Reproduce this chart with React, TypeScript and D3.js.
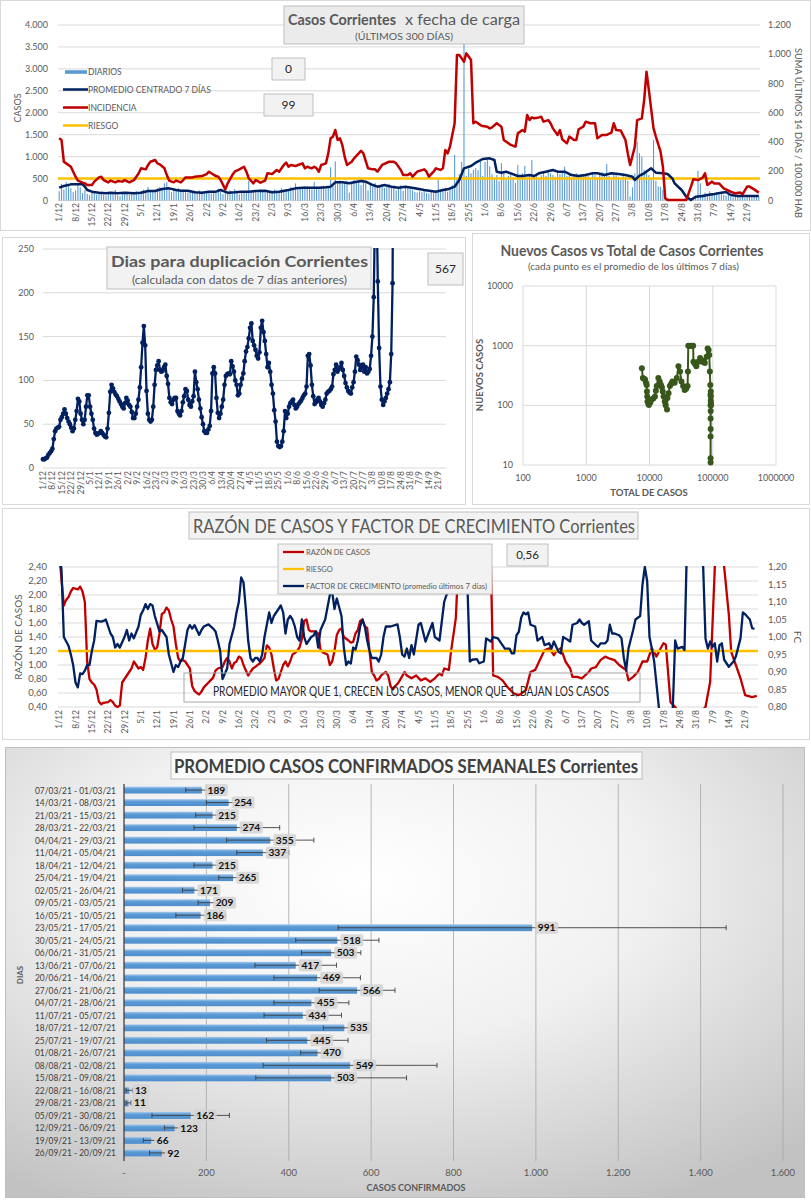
import React from 'react';
import * as d3 from 'd3';

// ---- categorías: días desde 1/12/2020 (300 días)
const START = new Date(2020, 11, 1);
const N_DAYS = 300;
const FECHAS = d3.range(N_DAYS).map(i => d3.timeDay.offset(START, i));
const fmtFecha = d3.timeFormat('%-d/%-m');
const TICKS_FECHA = d3.range(0, N_DAYS, 7);

// ---- Casos Corrientes x fecha de carga
const DIARIOS = [
  210, 380, 250, 420, 330, 280, 190, 230, 390, 300, 170, 240, 150, 120,
  180, 200, 140, 160, 210, 130, 110, 170, 190, 150, 240, 120, 100, 180,
  160, 200, 130, 150, 190, 210, 140, 220, 250, 180, 310, 240, 200, 230,
  280, 310, 250, 390, 420, 240, 190, 260, 230, 280, 200, 250, 210, 180,
  190, 170, 210, 150, 230, 200, 160, 210, 180, 160, 230, 190, 270, 200,
  150, 210, 190, 230, 160, 260, 180, 140, 200, 170, 220, 450, 190, 240,
  220, 180, 260, 210, 190, 240, 170, 200, 250, 230, 180, 280, 240, 210,
  260, 310, 290, 390, 250, 280, 300, 330, 270, 300, 250, 420, 310, 260,
  290, 340, 280, 310, 760, 350, 890, 420, 460, 380, 400, 450, 180, 390,
  470, 410, 450, 350, 480, 420, 230, 380, 310, 400, 280, 330, 360, 290,
  310, 380, 290, 340, 230, 300, 350, 220, 290, 310, 260, 240, 200, 180,
  210, 190, 240, 170, 160, 200, 180, 240, 510, 210, 230, 290, 200, 280,
  350, 1040, 490, 600, 880, 3600, 560, 730, 620, 700, 740, 690, 900, 560,
  880, 940, 780, 600, 520, 580, 440, 850, 610, 480, 560, 640, 500, 400,
  810, 580, 620, 790, 540, 600, 920, 540, 610, 500, 580, 640, 560, 700,
  620, 580, 540, 680, 600, 640, 770, 560, 600, 520, 580, 620, 540, 600,
  590, 620, 560, 500, 640, 580, 530, 600, 650, 620, 830, 560, 470, 610,
  580, 540, 470, 620, 540, 450, 90, 300, 620, 1340, 1080, 1000, 700, 620,
  580, 500, 1380, 450, 320, 310, 240, 180, 60, 30, 20, 10, 15, 10,
  10, 5, 15, 10, 20, 30, 60, 680, 390, 140, 180, 150, 210, 170,
  120, 190, 160, 200, 130, 110, 150, 90, 70, 110, 130, 80, 100, 60,
  90, 130, 70, 100, 110, 90,
];
const PROMEDIO_7D = [
  [0, 292], [2, 330], [5, 368], [10, 368], [11, 315], [12, 239], [14, 201], [17, 178], [20, 163],
  [22, 178], [25, 163], [28, 178], [32, 163], [35, 178], [38, 217], [41, 217], [44, 262], [47, 277],
  [50, 239], [52, 224], [55, 224], [58, 186], [61, 178], [64, 201], [67, 201], [69, 239], [72, 178],
  [75, 186], [78, 201], [81, 201], [84, 217], [88, 224], [91, 186], [94, 201], [98, 239], [101, 277],
  [104, 292], [108, 292], [111, 292], [114, 300], [116, 315], [118, 414], [121, 414], [124, 391],
  [126, 414], [129, 444], [131, 429], [134, 353], [136, 315], [139, 353], [142, 315], [145, 292],
  [148, 315], [152, 277], [156, 239], [161, 201], [164, 239], [166, 255], [169, 315], [171, 467],
  [173, 733], [176, 786], [178, 862], [181, 946], [184, 961], [186, 923], [187, 657], [189, 634],
  [191, 657], [193, 619], [196, 558], [198, 558], [201, 581], [203, 558], [205, 619], [208, 657],
  [211, 695], [213, 657], [216, 657], [219, 581], [222, 558], [225, 581], [228, 619], [230, 619],
  [233, 581], [236, 619], [239, 604], [242, 581], [245, 543], [246, 467], [248, 566], [250, 619],
  [253, 733], [255, 634], [258, 619], [260, 604], [262, 505], [263, 391], [266, 239], [268, 87],
  [270, 11], [272, 87], [275, 103], [277, 125], [280, 148], [283, 179], [285, 194], [287, 125],
  [290, 103], [295, 103], [299, 103],
];
const INCIDENCIA = [
  [0, 425], [1, 414], [2, 265], [3, 254], [5, 231], [6, 197], [7, 163], [8, 136], [10, 122], [11, 117],
  [12, 106], [14, 106], [15, 129], [17, 158], [18, 163], [19, 140], [21, 124], [22, 136], [24, 124],
  [25, 133], [27, 129], [28, 140], [30, 124], [31, 133], [32, 140], [34, 186], [35, 220], [37, 213],
  [38, 243], [39, 265], [41, 277], [42, 254], [43, 247], [45, 220], [46, 174], [47, 136], [49, 124],
  [50, 136], [52, 124], [53, 140], [54, 158], [57, 158], [58, 163], [61, 167], [63, 181], [64, 197],
  [65, 186], [67, 167], [68, 163], [69, 140], [71, 76], [72, 117], [74, 174], [75, 197], [77, 213],
  [79, 231], [80, 197], [81, 152], [83, 117], [84, 140], [86, 122], [88, 136], [89, 186], [91, 181],
  [93, 208], [94, 197], [96, 243], [97, 259], [98, 231], [99, 243], [101, 236], [104, 254], [105, 220],
  [106, 231], [108, 220], [109, 231], [110, 220], [111, 197], [112, 243], [114, 254], [115, 322],
  [116, 425], [117, 436], [118, 482], [119, 414], [120, 425], [121, 379], [122, 300], [123, 243],
  [125, 265], [126, 288], [128, 322], [129, 340], [130, 322], [132, 220], [134, 213], [135, 213],
  [136, 197], [138, 243], [141, 265], [143, 265], [144, 254], [146, 208], [147, 174], [149, 174],
  [150, 186], [151, 163], [153, 197], [156, 213], [157, 197], [158, 163], [160, 197], [161, 220],
  [163, 209], [164, 220], [165, 345], [166, 322], [167, 368], [169, 528], [170, 995], [171, 995],
  [172, 972], [173, 949], [174, 1006], [175, 984], [176, 961], [177, 528], [178, 539], [180, 516],
  [181, 509], [183, 505], [184, 493], [185, 500], [187, 528], [189, 505], [190, 414], [192, 391],
  [193, 380], [195, 368], [196, 459], [198, 482], [199, 471], [200, 585], [201, 550], [202, 568],
  [203, 562], [205, 568], [206, 573], [207, 539], [209, 550], [210, 528], [211, 493], [213, 448],
  [214, 482], [215, 418], [217, 391], [218, 437], [220, 414], [221, 414], [222, 487], [224, 505],
  [225, 539], [227, 528], [229, 528], [230, 425], [232, 448], [234, 448], [236, 464], [237, 528],
  [238, 482], [240, 478], [242, 414], [243, 322], [244, 242], [246, 368], [247, 550], [249, 562],
  [250, 687], [251, 881], [252, 756], [254, 493], [255, 437], [257, 334], [258, 231], [259, 15],
  [260, 3], [268, 3], [270, 95], [271, 145], [273, 140], [275, 156], [276, 186], [277, 106], [279, 129],
  [280, 117], [282, 117], [284, 83], [287, 60], [289, 49], [291, 54], [292, 42], [294, 95], [295, 95],
  [297, 76], [299, 54],
];
const RIESGO_CASOS = 500;
const LEYENDA_CASOS = ['DIARIOS', 'PROMEDIO CENTRADO 7 DÍAS', 'INCIDENCIA', 'RIESGO'];

// ---- Días para duplicación
const DUPLICACION = [
  10, 10, 11, 12, 15, 17, 19, 22, 33, 42, 45, 46, 47, 55, 58, 62, 67, 62, 57, 53,
  50, 46, 42, 45, 55, 65, 79, 76, 62, 55, 50, 55, 70, 83, 83, 70, 62, 55, 45, 40,
  38, 39, 40, 42, 40, 38, 36, 35, 45, 63, 87, 95, 91, 87, 84, 82, 79, 76, 73, 70,
  68, 74, 80, 77, 72, 70, 64, 57, 57, 62, 70, 78, 92, 115, 143, 162, 140, 88, 62, 55,
  53, 55, 70, 95, 112, 117, 122, 112, 110, 111, 115, 118, 105, 96, 80, 75, 73, 78, 80, 80,
  65, 62, 60, 65, 75, 82, 90, 88, 78, 72, 70, 76, 82, 110, 98, 90, 78, 68, 58, 50,
  42, 40, 40, 44, 48, 65, 108, 115, 108, 80, 63, 57, 62, 70, 78, 95, 105, 107, 108, 107,
  122, 116, 110, 100, 95, 83, 85, 95, 102, 108, 122, 133, 138, 148, 160, 165, 145, 140, 135, 128,
  125, 132, 160, 168, 155, 145, 130, 115, 120, 110, 95, 85, 66, 53, 30, 25, 24, 25, 30, 42,
  65, 57, 62, 70, 74, 76, 78, 72, 68, 70, 73, 75, 77, 80, 83, 85, 93, 128, 130, 117,
  95, 82, 73, 75, 78, 80, 76, 72, 70, 74, 78, 85, 87, 88, 90, 93, 107, 112, 118, 110,
  113, 115, 120, 112, 105, 97, 92, 88, 86, 85, 92, 98, 110, 127, 123, 118, 112, 115, 118, 110,
  115, 108, 110, 113, 128, 150, 195, 300, 320, 213, 137, 93, 78, 72, 76, 80, 85, 90, 98, 130,
  211, 567,
];

// ---- Nuevos casos vs total
const TOTAL_CASOS = [
  7570, 7850, 8200, 8500, 8800, 9000, 9100, 9200, 9300, 9600, 9800, 10300, 10800, 11500, 12200,
  12600, 13000, 13800, 14500, 15200, 15700, 16200, 16700, 17400, 18000, 18900, 19200, 20000, 21000,
  22000, 23000, 25000, 27000, 28700, 30400, 32000, 34000, 36000, 38000, 40000, 40500, 41000, 44000,
  46000, 49000, 49500, 52000, 55000, 59000, 63000, 68000, 72000, 75000, 80000, 83000, 86000, 88000,
  90000, 91500, 92000, 92300, 92400, 92400, 92400, 92500, 92600, 92700, 92900, 93100, 93300, 93500, 93700,
];
const NUEVOS_CASOS = [
  419, 286, 280, 270, 240, 220, 170, 140, 116, 105, 101, 112, 125, 130, 140,
  175, 210, 286, 250, 220, 200, 170, 140, 116, 100, 85, 133, 160, 210,
  230, 250, 240, 286, 450, 370, 250, 210, 180, 190, 210, 370, 1000, 990,
  1000, 1000, 540, 500, 450, 540, 620, 540, 560, 510, 650, 900, 850, 700,
  370, 220, 150, 100, 60, 30, 13, 11, 40, 80, 120, 170, 140, 110, 100,
];

// ---- Razón de casos y factor de crecimiento
const RAZON = [
  [0, 2.6], [2, 1.85], [3, 1.93], [4, 1.97], [5, 2.05], [6, 2.1], [8, 2.08], [9, 2.12], [10, 2.05],
  [11, 1.9], [12, 1.05], [13, 0.8], [14, 0.75], [15, 0.72], [16, 0.65], [17, 0.48], [18, 0.44],
  [19, 0.46], [21, 0.47], [22, 0.5], [23, 0.47], [24, 0.42], [25, 0.4], [26, 0.42], [27, 0.75],
  [28, 0.8], [29, 0.85], [31, 0.95], [32, 1.05], [33, 1.0], [34, 0.95], [35, 0.97], [36, 0.93],
  [37, 1.1], [38, 1.35], [39, 1.52], [40, 1.3], [41, 1.22], [42, 1.25], [43, 1.45], [44, 1.73],
  [45, 1.75], [46, 1.82], [47, 1.78], [48, 1.65], [49, 1.55], [50, 1.3], [51, 1.1], [52, 1.05],
  [53, 1.07], [54, 1.05], [55, 1.0], [56, 0.95], [57, 0.7], [58, 0.63], [59, 0.6], [60, 0.58],
  [61, 0.62], [62, 0.68], [64, 0.75], [66, 0.82], [67, 0.92], [68, 0.95], [70, 0.97], [71, 1.05],
  [72, 1.1], [73, 1.05], [74, 0.95], [75, 1.03], [76, 1.05], [77, 1.12], [78, 1.1], [79, 1.0],
  [81, 0.85], [82, 0.9], [83, 0.95], [84, 0.97], [85, 1.0], [86, 1.02], [88, 1.1], [89, 1.28],
  [90, 1.25], [91, 1.15], [92, 0.95], [93, 0.78], [94, 0.8], [95, 0.9], [96, 1.0], [97, 1.05],
  [98, 0.98], [99, 1.05], [100, 1.15], [101, 1.17], [102, 1.2], [103, 1.25], [104, 1.37], [105, 1.63],
  [106, 1.65], [107, 1.5], [108, 1.48], [110, 1.48], [111, 1.45], [112, 1.22], [113, 1.18], [115, 1.15],
  [116, 1.0], [117, 1.05], [118, 1.2], [119, 1.43], [120, 1.5], [121, 1.52], [122, 1.4], [124, 1.35],
  [125, 1.32], [126, 1.33], [127, 1.45], [128, 1.5], [129, 1.63], [130, 1.65], [131, 1.55], [132, 1.53],
  [133, 1.2], [134, 0.9], [135, 0.85], [136, 0.78], [137, 0.8], [138, 0.85], [139, 0.88], [140, 0.9],
  [141, 0.85], [142, 0.7], [143, 0.65], [144, 0.7], [145, 0.73], [146, 0.78], [148, 0.9], [149, 0.85],
  [151, 0.81], [153, 0.85], [155, 0.78], [157, 0.81], [159, 0.76], [161, 0.81], [163, 0.88], [164, 0.85],
  [165, 0.95], [167, 0.93], [168, 1.21], [170, 1.67], [171, 2.4], [173, 2.9], [178, 3.3], [183, 2.9],
  [185, 2.5], [186, 0.85], [188, 0.83], [190, 0.78], [192, 0.69], [195, 0.59], [197, 0.57], [198, 0.59],
  [200, 0.64], [202, 0.9], [204, 0.93], [206, 1.07], [208, 1.21], [210, 1.24], [212, 1.14], [213, 1.19],
  [215, 1.24], [217, 1.05], [219, 0.95], [220, 0.83], [222, 0.83], [224, 0.81], [227, 0.9], [228, 0.95],
  [230, 0.97], [232, 1.07], [234, 1.12], [236, 1.09], [238, 1.07], [240, 1.0], [242, 0.95], [243, 0.93],
  [244, 0.78], [246, 0.83], [248, 0.9], [250, 1.05], [252, 1.05], [254, 1.24], [256, 1.12], [257, 1.19],
  [259, 1.31], [260, 1.29], [262, 0.47], [264, 0.4], [266, 0.3], [270, 0.25], [274, 0.3], [277, 0.4],
  [279, 0.76], [281, 2.4], [283, 3.0], [285, 2.4], [287, 1.72], [288, 1.19], [290, 1.0], [292, 0.81],
  [293, 0.69], [294, 0.57], [297, 0.54], [299, 0.56],
];
const FACTOR = [
  [0, 1.25], [1, 1.19], [2, 1.0], [4, 0.975], [5, 0.95], [6, 0.92], [7, 0.87], [8, 0.856], [9, 0.896],
  [10, 0.894], [11, 0.904], [12, 0.92], [13, 0.92], [14, 0.96], [15, 0.99], [16, 1.046], [18, 1.044],
  [19, 1.046], [20, 1.05], [21, 1.03], [22, 1.01], [23, 1.0], [24, 0.97], [25, 0.98], [26, 0.97],
  [28, 1.0], [29, 1.02], [30, 0.99], [31, 1.01], [32, 0.996], [34, 1.03], [35, 1.064], [36, 1.076],
  [37, 1.094], [38, 1.08], [39, 1.094], [40, 1.09], [41, 1.06], [43, 1.016], [44, 1.02], [46, 1.0],
  [47, 0.95], [49, 0.9], [50, 0.92], [51, 0.914], [52, 0.93], [53, 0.94], [54, 0.98], [55, 1.02],
  [56, 1.034], [57, 1.024], [58, 1.034], [59, 1.02], [60, 1.006], [61, 1.02], [62, 1.03], [64, 1.036],
  [66, 1.024], [67, 1.016], [68, 0.99], [69, 0.96], [70, 0.88], [72, 0.91], [73, 0.98], [75, 1.03],
  [76, 1.07], [77, 1.1], [78, 1.17], [79, 1.156], [80, 1.08], [81, 0.99], [82, 0.94], [83, 0.93],
  [84, 0.94], [85, 0.94], [86, 0.93], [87, 0.95], [88, 1.0], [90, 1.07], [91, 1.04], [92, 1.06],
  [94, 1.08], [95, 1.09], [96, 1.07], [97, 1.01], [98, 1.05], [99, 1.06], [100, 1.05], [101, 1.03],
  [102, 1.0], [103, 0.99], [104, 1.05], [105, 1.0], [106, 0.98], [108, 1.0], [109, 1.004], [110, 1.016],
  [111, 0.97], [112, 1.02], [114, 1.05], [116, 1.12], [117, 1.13], [118, 1.08], [119, 1.11], [121, 1.06],
  [122, 0.97], [123, 0.92], [124, 0.93], [125, 0.924], [126, 0.97], [127, 0.964], [128, 0.99], [129, 1.03],
  [130, 1.05], [131, 1.03], [132, 0.99], [133, 0.96], [134, 0.94], [136, 0.94], [137, 0.93], [138, 0.95],
  [139, 1.0], [140, 1.03], [142, 1.03], [145, 1.036], [146, 1.0], [147, 0.95], [148, 0.944], [149, 0.967],
  [150, 0.94], [151, 0.977], [152, 0.95], [154, 1.035], [155, 1.04], [157, 0.987], [158, 1.005], [160, 1.04],
  [161, 1.0], [163, 0.99], [164, 1.045], [165, 1.1], [166, 1.12], [167, 1.135], [168, 1.2], [170, 1.3],
  [173, 1.35], [175, 1.14], [176, 0.93], [177, 0.935], [179, 0.937], [180, 0.925], [182, 0.93], [183, 0.996],
  [185, 0.987], [186, 1.0], [188, 0.996], [190, 0.977], [191, 0.967], [193, 0.967], [194, 0.953], [195, 0.953],
  [196, 1.005], [197, 1.015], [198, 1.055], [199, 1.07], [200, 1.065], [201, 1.07], [202, 1.035], [204, 1.03],
  [205, 0.99], [207, 1.0], [208, 0.977], [210, 0.982], [211, 0.967], [212, 0.987], [214, 0.958], [215, 0.953],
  [216, 1.0], [217, 0.996], [219, 0.987], [220, 1.035], [222, 1.04], [223, 1.05], [224, 1.04], [225, 1.035],
  [227, 1.045], [228, 0.99], [230, 0.977], [231, 0.972], [232, 0.982], [234, 0.982], [235, 0.99], [236, 1.035],
  [237, 1.01], [238, 1.01], [240, 1.005], [241, 0.996], [242, 0.94], [243, 0.905], [244, 0.967], [246, 1.02],
  [247, 1.05], [249, 1.06], [250, 1.15], [251, 1.2], [252, 1.16], [253, 1.0], [254, 0.967], [255, 0.93],
  [257, 0.8], [258, 0.7], [261, 0.65], [263, 0.8], [264, 0.99], [265, 0.967], [267, 0.972], [268, 0.963],
  [269, 1.25], [272, 1.4], [275, 1.25], [276, 1.2], [277, 0.996], [278, 0.967], [279, 0.987], [280, 0.972],
  [281, 0.982], [282, 0.93], [283, 0.977], [284, 0.982], [285, 0.935], [286, 0.925], [287, 0.915], [289, 0.93],
  [290, 0.944], [292, 0.996], [293, 1.07], [294, 1.065], [296, 1.05], [297, 1.025], [298, 1.023],
];
const RIESGO_RAZON = 1.2;
const LEYENDA_RAZON = ['RAZÓN DE CASOS', 'RIESGO', 'FACTOR DE CRECIMIENTO (promedio últimos 7 días)'];

// ---- Promedio casos confirmados semanales
const SEMANAS = [
  '07/03/21 - 01/03/21', '14/03/21 - 08/03/21', '21/03/21 - 15/03/21', '28/03/21 - 22/03/21',
  '04/04/21 - 29/03/21', '11/04/21 - 05/04/21', '18/04/21 - 12/04/21', '25/04/21 - 19/04/21',
  '02/05/21 - 26/04/21', '09/05/21 - 03/05/21', '16/05/21 - 10/05/21', '23/05/21 - 17/05/21',
  '30/05/21 - 24/05/21', '06/06/21 - 31/05/21', '13/06/21 - 07/06/21', '20/06/21 - 14/06/21',
  '27/06/21 - 21/06/21', '04/07/21 - 28/06/21', '11/07/21 - 05/07/21', '18/07/21 - 12/07/21',
  '25/07/21 - 19/07/21', '01/08/21 - 26/07/21', '08/08/21 - 02/08/21', '15/08/21 - 09/08/21',
  '22/08/21 - 16/08/21', '29/08/21 - 23/08/21', '05/09/21 - 30/08/21', '12/09/21 - 06/09/21',
  '19/09/21 - 13/09/21', '26/09/21 - 20/09/21',
];
const PROMEDIO_SEMANAL = [
  189, 254, 215, 274, 355, 337, 215, 265, 171, 209, 186, 991, 518, 503, 417,
  469, 566, 455, 434, 535, 445, 470, 549, 503, 13, 11, 162, 123, 66, 92,
];
const DESVIO_SEMANAL = [
  39, 54, 41, 104, 106, 63, 45, 35, 29, 29, 60, 471, 101, 72, 99,
  105, 92, 91, 94, 51, 99, 41, 211, 183, 8, 6, 94, 25, 19, 30,
];

// ---- estilo
const FONT = 'Lato, "Open Sans", sans-serif';
const TXT = '#595959';
const GRID = '#d9d9d9';
const NAVY = '#002060';
const RED = '#c00000';
const GOLD = '#ffc000';
const BAR = '#5b9bd5';
const GREEN = '#38571a';

const es = d3.formatLocale({ decimal: ',', thousands: '.', grouping: [3], currency: ['$', ''] });
const miles = es.format(',');
const dec2 = es.format('.2f');

function Caja({ x, y, w, h, text, size = 12 }: any) {
  return (
    <g>
      <rect x={x} y={y} width={w} height={h} fill="#f2f2f2" stroke="#bfbfbf" />
      <text x={x + w / 2} y={y + h / 2 + size * 0.36} textAnchor="middle" fontSize={size} fill="#262626">{text}</text>
    </g>
  );
}

function FechasEje({ x, y }: any) {
  return (
    <g fontSize={8.5} fill={TXT}>
      {TICKS_FECHA.map(i => (
        <text key={i} transform={`translate(${x(i) + 3},${y}) rotate(-90)`} textAnchor="end">{fmtFecha(FECHAS[i])}</text>
      ))}
    </g>
  );
}

function CasosChart() {
  const x = d3.scaleLinear().domain([-0.5, N_DAYS - 0.5]).range([58, 760]);
  const yL = d3.scaleLinear().domain([0, 4000]).range([200.5, 25]);
  const yR = d3.scaleLinear().domain([0, 1200]).range([200.5, 25]);
  const lineL = d3.line<any>().x(d => x(d[0])).y(d => yL(d[1]));
  const lineR = d3.line<any>().x(d => x(d[0])).y(d => yR(d[1]));
  const ticksL = yL.ticks(8);
  const ticksR = yR.ticks(6);
  const legY = [72, 89.5, 107.5, 125.5];
  return (
    <g>
      <rect x={0.5} y={0.5} width={810} height={230} fill="#fff" stroke={GRID} />
      {ticksL.map(t => <line key={t} x1={58} x2={760} y1={yL(t)} y2={yL(t)} stroke={GRID} />)}
      <g fontSize={9} fill={TXT}>
        {ticksL.map(t => <text key={t} x={48} y={yL(t) + 3} textAnchor="end">{miles(t)}</text>)}
        {ticksR.map(t => <text key={t} x={768} y={yR(t) + 3}>{miles(t)}</text>)}
      </g>
      <g fill={BAR}>
        {DIARIOS.map((v, i) => <rect key={i} x={x(i) - 0.55} width={1.1} y={yL(v)} height={yL(0) - yL(v)} />)}
      </g>
      <line x1={58} x2={760} y1={yL(RIESGO_CASOS)} y2={yL(RIESGO_CASOS)} stroke={GOLD} strokeWidth={2.5} />
      <path d={lineL(PROMEDIO_7D) || ''} fill="none" stroke={NAVY} strokeWidth={2.5} strokeLinejoin="round" />
      <path d={lineR(INCIDENCIA) || ''} fill="none" stroke={RED} strokeWidth={2.5} strokeLinejoin="round" />
      <FechasEje x={x} y={203} />
      <text transform="translate(21,108) rotate(-90)" textAnchor="middle" fontSize={9} fill={TXT}>CASOS</text>
      <text transform="translate(795,133) rotate(90)" textAnchor="middle" fontSize={9.5} fill={TXT}
        textLength={170} lengthAdjust="spacingAndGlyphs">SUMA  ÚLTIMOS 14 DÍAS / 100.000 HAB</text>
      {/* leyenda */}
      <rect x={65} y={legY[0] - 1.8} width={22} height={3.6} fill={BAR} />
      <line x1={63} x2={88} y1={legY[1]} y2={legY[1]} stroke={NAVY} strokeWidth={2.5} />
      <line x1={63} x2={88} y1={legY[2]} y2={legY[2]} stroke={RED} strokeWidth={2.5} />
      <line x1={63} x2={88} y1={legY[3]} y2={legY[3]} stroke={GOLD} strokeWidth={2.5} />
      <g fontSize={8.5} fill={TXT}>
        {LEYENDA_CASOS.map((t, i) => <text key={t} x={88} y={legY[i] + 3}>{t}</text>)}
      </g>
      <rect x={284} y={6} width={240} height={38} fill="#ebebeb" stroke="#bfbfbf" />
      <text x={288} y={25} fontSize={15.5} fontWeight="bold" fill={TXT} textLength={108} lengthAdjust="spacingAndGlyphs">Casos Corrientes</text>
      <text x={405} y={25} fontSize={15.5} fill={TXT} textLength={115} lengthAdjust="spacingAndGlyphs">x fecha de carga</text>
      <text x={355} y={40} fontSize={9.5} fill={TXT} textLength={98} lengthAdjust="spacingAndGlyphs">(ÚLTIMOS 300 DÍAS)</text>
      <Caja x={272} y={58} w={33} h={22} text="0" />
      <Caja x={264} y={94} w={49} h={22} text="99" />
    </g>
  );
}

function DuplicacionChart() {
  const x = d3.scaleLinear().domain([0, N_DAYS - 1]).range([43, 445]);
  const y = d3.scaleLinear().domain([0, 250]).range([468, 249]);
  const pts = DUPLICACION.map((v, i) => [i, v]);
  const line = d3.line<any>().x(d => x(d[0])).y(d => y(d[1]));
  const ticks = y.ticks(5);
  return (
    <g>
      <rect x={2.5} y={237.5} width={463} height={267} fill="#fff" stroke={GRID} />
      <defs>
        <clipPath id="clipDup"><rect x={36} y={248} width={416} height={226} /></clipPath>
      </defs>
      {ticks.map(t => <line key={t} x1={43} x2={446} y1={y(t)} y2={y(t)} stroke={GRID} />)}
      <g fontSize={9} fill={TXT}>
        {ticks.map(t => <text key={t} x={34} y={y(t) + 3} textAnchor="end">{t}</text>)}
      </g>
      <g clipPath="url(#clipDup)">
        <path d={line(pts) || ''} fill="none" stroke={NAVY} strokeWidth={2.3} strokeLinejoin="round" />
        <g fill={NAVY}>
          {pts.map(p => <circle key={p[0]} cx={x(p[0])} cy={y(p[1])} r={2.4} />)}
        </g>
      </g>
      <FechasEje x={x} y={471} />
      <rect x={107} y={247} width={264} height={42} fill="#f2f2f2" stroke="#bfbfbf" />
      <text x={111} y={267} fontSize={16} fontWeight="bold" fill={TXT} textLength={257} lengthAdjust="spacingAndGlyphs">Dias para duplicación Corrientes</text>
      <text x={132} y={284} fontSize={11.5} fill={TXT} textLength={215} lengthAdjust="spacingAndGlyphs">(calculada con datos de 7 días anteriores)</text>
      <Caja x={428} y={253} w={35} h={32} text="567" />
    </g>
  );
}

function DispersionChart() {
  const x = d3.scaleLog().domain([100, 1e6]).range([523, 776]);
  const y = d3.scaleLog().domain([10, 1e4]).range([465, 286]);
  const xt = [100, 1000, 10000, 100000, 1000000];
  const yt = [10, 100, 1000, 10000];
  const pts = TOTAL_CASOS.map((t, i) => [t, NUEVOS_CASOS[i]]);
  const line = d3.line<any>().x(d => x(d[0])).y(d => y(d[1]));
  return (
    <g>
      <rect x={472.5} y={233.5} width={337} height={271} fill="#fff" stroke={GRID} />
      {xt.map(t => <line key={t} x1={x(t)} x2={x(t)} y1={286} y2={465} stroke={GRID} />)}
      {yt.map(t => <line key={t} x1={523} x2={776} y1={y(t)} y2={y(t)} stroke={GRID} />)}
      <g fontSize={9} fill={TXT}>
        {xt.map(t => <text key={t} x={x(t)} y={481} textAnchor="middle">{t}</text>)}
        {yt.map(t => <text key={t} x={513} y={y(t) + 3} textAnchor="end">{t}</text>)}
      </g>
      <path d={line(pts) || ''} fill="none" stroke={GREEN} strokeWidth={2} strokeLinejoin="round" />
      <g fill={GREEN}>
        {pts.map((p, i) => <circle key={i} cx={x(p[0])} cy={y(p[1])} r={3} />)}
      </g>
      <text x={632} y={256} textAnchor="middle" fontSize={15} fontWeight="bold" fill={TXT} textLength={263} lengthAdjust="spacingAndGlyphs">Nuevos Casos vs Total de Casos Corrientes</text>
      <text x={633.5} y={270} textAnchor="middle" fontSize={9.5} fill={TXT} textLength={211} lengthAdjust="spacingAndGlyphs">(cada punto es el promedio de los últimos 7 días)</text>
      <text x={649} y={496} textAnchor="middle" fontSize={9.5} fontWeight="bold" fill={TXT}>TOTAL DE CASOS</text>
      <text transform="translate(483,375) rotate(-90)" textAnchor="middle" fontSize={9.5} fontWeight="bold" fill={TXT}>NUEVOS CASOS</text>
    </g>
  );
}

function RazonChart() {
  const x = d3.scaleLinear().domain([-0.5, N_DAYS - 0.5]).range([58, 758]);
  const yL = d3.scaleLinear().domain([0.4, 2.4]).range([707, 567]);
  const yR = d3.scaleLinear().domain([0.8, 1.2]).range([707, 567]);
  const lineL = d3.line<any>().x(d => x(d[0])).y(d => yL(d[1]));
  const lineR = d3.line<any>().x(d => x(d[0])).y(d => yR(d[1]));
  const ticksL = yL.ticks(10);
  const ticksR = yR.ticks(8);
  const legY = [552, 569, 586];
  return (
    <g>
      <rect x={2.5} y={508.5} width={807} height={231} fill="#fff" stroke={GRID} />
      <defs>
        <clipPath id="clipRazon"><rect x={58} y={566} width={700} height={142} /></clipPath>
      </defs>
      {ticksL.map(t => <line key={t} x1={58} x2={758} y1={yL(t)} y2={yL(t)} stroke={GRID} />)}
      <g fontSize={9.5} fill={TXT}>
        {ticksL.map(t => <text key={t} x={47} y={yL(t) + 3.3} textAnchor="end">{dec2(t)}</text>)}
        {ticksR.map(t => <text key={t} x={768} y={yR(t) + 3.3}>{dec2(t)}</text>)}
      </g>
      <g clipPath="url(#clipRazon)">
        <path d={lineL(RAZON) || ''} fill="none" stroke={RED} strokeWidth={2.3} strokeLinejoin="round" />
        <line x1={58} x2={758} y1={yL(RIESGO_RAZON)} y2={yL(RIESGO_RAZON)} stroke={GOLD} strokeWidth={2.5} />
        <path d={lineR(FACTOR) || ''} fill="none" stroke={NAVY} strokeWidth={2.3} strokeLinejoin="round" />
      </g>
      <FechasEje x={x} y={710} />
      <text transform="translate(22,637) rotate(-90)" textAnchor="middle" fontSize={10} fill={TXT}>RAZÓN DE CASOS</text>
      <text transform="translate(794,637) rotate(90)" textAnchor="middle" fontSize={10} fill={TXT}>FC</text>
      <rect x={189} y={512} width={449} height={27} fill="#f2f2f2" stroke="#bfbfbf" />
      <text x={193} y={533} fontSize={19} fill={TXT} textLength={442} lengthAdjust="spacingAndGlyphs">RAZÓN DE CASOS Y FACTOR DE CRECIMIENTO Corrientes</text>
      {/* leyenda */}
      <rect x={278} y={544} width={214} height={50} fill="#f2f2f2" stroke="#bfbfbf" />
      <line x1={283} x2={304} y1={legY[0]} y2={legY[0]} stroke={RED} strokeWidth={2.3} />
      <line x1={283} x2={304} y1={legY[1]} y2={legY[1]} stroke={GOLD} strokeWidth={2.3} />
      <line x1={283} x2={304} y1={legY[2]} y2={legY[2]} stroke={NAVY} strokeWidth={2.3} />
      <g fontSize={7.5} fill={TXT}>
        <text x={306} y={legY[0] + 2.6}>{LEYENDA_RAZON[0]}</text>
        <text x={306} y={legY[1] + 2.6}>{LEYENDA_RAZON[1]}</text>
        <text x={306} y={legY[2] + 2.6} textLength={181} lengthAdjust="spacingAndGlyphs">{LEYENDA_RAZON[2]}</text>
      </g>
      <Caja x={507} y={544} w={41} h={22} text="0,56" size={11.5} />
      <rect x={184} y={673} width={456} height={29} fill="none" stroke="#a6a6a6" />
      <text x={213} y={696} fontSize={12.5} fill="#262626" textLength={396} lengthAdjust="spacingAndGlyphs">PROMEDIO MAYOR QUE 1, CRECEN LOS CASOS, MENOR QUE 1, BAJAN LOS CASOS</text>
    </g>
  );
}

function SemanalChart() {
  const x = d3.scaleLinear().domain([0, 1600]).range([124, 783]);
  const y = d3.scaleBand<string>().domain(SEMANAS).range([781, 1162]).padding(0.45);
  const ticks = x.ticks(8);
  const bw = y.bandwidth();
  return (
    <g>
      <defs>
        <radialGradient id="fondoSem" cx="0.45" cy="0.3" r="0.8">
          <stop offset="0" stopColor="#ffffff" />
          <stop offset="0.45" stopColor="#f0f0f0" />
          <stop offset="1" stopColor="#c2c2c2" />
        </radialGradient>
        <linearGradient id="barSem" x1="0" y1="0" x2="0" y2="1">
          <stop offset="0" stopColor="#a9c9ec" />
          <stop offset="0.35" stopColor="#5b9bd5" />
          <stop offset="1" stopColor="#4e8dcc" />
        </linearGradient>
      </defs>
      <rect x={5.5} y={747.5} width={799} height={450} fill="url(#fondoSem)" stroke="#bfbfbf" />
      {ticks.filter(t => t > 0).map(t => <line key={t} x1={x(t)} x2={x(t)} y1={784} y2={1161} stroke="#a6a6a6" strokeWidth={0.8} />)}
      <g fontSize={9.5} fill={TXT}>
        {ticks.map(t => <text key={t} x={x(t)} y={1176} textAnchor="middle">{t === 0 ? '-' : miles(t)}</text>)}
      </g>
      <g fontSize={10} fill="#404040">
        {SEMANAS.map(s => (
          <text key={s} x={116} y={(y(s) || 0) + bw / 2 + 3.5} textAnchor="end" textLength={81} lengthAdjust="spacingAndGlyphs">{s}</text>
        ))}
      </g>
      {SEMANAS.map((s, i) => (
        <rect key={s} x={x(0)} y={y(s)} width={x(PROMEDIO_SEMANAL[i]) - x(0)} height={bw} fill="url(#barSem)" />
      ))}
      <g stroke="#404040" strokeWidth={0.9}>
        {SEMANAS.map((s, i) => {
          const cy = (y(s) || 0) + bw / 2;
          const a = x(Math.max(0, PROMEDIO_SEMANAL[i] - DESVIO_SEMANAL[i]));
          const b = x(PROMEDIO_SEMANAL[i] + DESVIO_SEMANAL[i]);
          return (
            <g key={s}>
              <line x1={a} x2={b} y1={cy} y2={cy} />
              <line x1={a} x2={a} y1={cy - 2.5} y2={cy + 2.5} />
              <line x1={b} x2={b} y1={cy - 2.5} y2={cy + 2.5} />
            </g>
          );
        })}
      </g>
      <line x1={124} x2={124} y1={784} y2={1161} stroke="#404040" strokeWidth={1.3} />
      {SEMANAS.map((s, i) => {
        const v = PROMEDIO_SEMANAL[i];
        const txt = String(v);
        const w = 5 + txt.length * 6;
        const bx = x(v) + 3;
        const cy = (y(s) || 0) + bw / 2;
        return (
          <g key={s}>
            <rect x={bx} y={cy - 6} width={w} height={12} rx={2} fill="#d4d4d4" fillOpacity={0.85} />
            <text x={bx + w / 2} y={cy + 3.6} textAnchor="middle" fontSize={10.2} fontWeight="bold" fill="#111">{txt}</text>
          </g>
        );
      })}
      <rect x={171} y={752} width={471} height={27} fill="#fafafa" stroke="#bfbfbf" />
      <text x={174} y={773} fontSize={19} fontWeight="bold" fill="#404040" textLength={464} lengthAdjust="spacingAndGlyphs">PROMEDIO CASOS CONFIRMADOS SEMANALES Corrientes</text>
      <text x={416} y={1191} textAnchor="middle" fontSize={9} fontWeight="bold" fill={TXT}>CASOS CONFIRMADOS</text>
      <text transform="translate(23,975) rotate(-90)" textAnchor="middle" fontSize={8} fontWeight="bold" fill={TXT}>DIAS</text>
    </g>
  );
}

export default function App() {
  return (
    <div>
      <style>{'body{margin:0;background:#fff}'}</style>
      <svg width={811} height={1200} viewBox="0 0 811 1200" style={{ display: 'block', fontFamily: FONT }}>
        <rect width={811} height={1200} fill="#fff" />
        <CasosChart />
        <DuplicacionChart />
        <DispersionChart />
        <RazonChart />
        <SemanalChart />
      </svg>
    </div>
  );
}
